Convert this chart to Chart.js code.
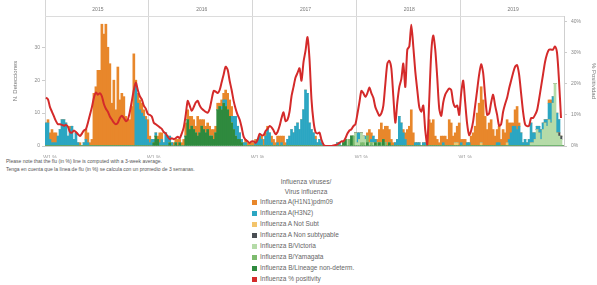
<!DOCTYPE html>
<html lang="en">
  <head>
    <meta charset="UTF-8" />
    <title>Influenza viruses / Virus influenza</title>
    <script src="https://cdn.jsdelivr.net/npm/chart.js"></script>
    <style>
      body { margin: 0; background: #fff; font-family: "Liberation Sans", Arial, sans-serif; }
      #wrap { position: absolute; left: 0; top: 0; width: 597px; height: 158px; }
      .note { position: absolute; left: 6px; font-size: 5px; color: #555; white-space: nowrap; }
      .leg-title { position: absolute; left: 256px; width: 100px; text-align: center; font-size: 6.5px; line-height: 10px; color: #666; }
      .leg-item { position: absolute; left: 252px; font-size: 6.5px; color: #666; white-space: nowrap; line-height: 8px; }
      .leg-item i { display: inline-block; width: 5px; height: 5px; margin-right: 3px; vertical-align: -0.5px; }
    </style>
  </head>
  <body>
    <div id="wrap"><canvas id="fluChart"></canvas></div>

    <div class="note" style="top: 158px">Please note that the flu (in %) line is computed with a 3-week average.</div>
    <div class="note" style="top: 166px">Tenga en cuenta que la línea de flu (in %) se calcula con un promedio de 3 semanas.</div>

    <div class="leg-title" style="top: 177px">Influenza viruses/<br />Virus influenza</div>
    <div id="legend"></div>

    <script>
      // years shown in the header, 52 weekly bars each
      const years = ["2015", "2016", "2017", "2018", "2019"];
      const weekTick = "W1 %";
      const countTicks = [0, 10, 20, 30];
      const pctTicks = [0, 10, 20, 30, 40];

      const zeroYear = [0,0,0,0,0,0,0,0,0,0, 0,0,0,0,0,0,0,0,0,0, 0,0,0,0,0,0,0,0,0,0, 0,0,0,0,0,0,0,0,0,0, 0,0,0,0,0,0,0,0,0,0, 0,0];

      // detections per week
      const h1n1 = [
        0,1,2,4,3,3,0,0,0,0, 0,0,1,0,0,0,0,1,0,0, 3,3,1,2,16,18,23,23,37,34, 37,30,25,13,20,11,24,14,16,15, 9,8,8,12,28,1,3,3,3,2, 1,6,
        2,0,0,0,1,3,2,0,0,0, 0,0,1,1,2,1,1,2,4,3, 4,3,3,2,6,4,2,3,2,2, 3,2,3,2,2,1,2,2,3,5, 5,3,0,0,0,0,0,0,1,1, 1,1,
        1,1,0,0,1,2,1,1,0,2, 2,1,2,3,2,3,1,0,0,0, 0,0,0,0,0,0,0,0,0,0, 0,1,0,0,0,0,0,0,0,0, 0,0,0,0,0,0,0,0,0,0, 0,0,
        0,0,0,0,0,1,4,2,0,0, 1,4,6,3,5,6,4,2,1,0, 0,0,0,1,2,5,6,11,4,0, 0,0,0,0,0,2,8,7,8,3, 2,1,3,2,3,2,8,7,3,3, 5,7,
        1,2,2,0,0,3,4,6,10,13, 17,14,9,5,7,8,5,3,4,5, 2,5,4,7,5,3,1,5,7,1, 0,0,0,0,0,0,0,0,0,0, 0,0,0,0,1,1,0,0,0,0, 0,0
      ];
      const h3n2 = [
        7,7,2,1,1,1,3,5,8,8, 7,3,5,6,2,4,1,0,0,1, 2,1,0,0,0,0,0,0,0,0, 0,0,0,0,0,0,0,0,0,0, 0,0,0,0,0,19,13,11,10,9, 8,2,
        1,2,1,1,0,1,2,1,4,3, 2,1,0,0,0,0,0,0,0,0, 0,0,0,0,0,0,0,0,0,0, 0,0,0,0,0,0,1,1,2,0, 0,2,4,6,4,2,1,1,1,0, 0,0,
        0,1,2,3,2,0,3,5,4,1, 0,0,1,0,1,0,0,2,3,5, 4,6,7,5,8,11,17,16,7,5, 4,2,1,2,1,0,0,0,0,0, 0,0,1,1,0,0,0,0,0,0, 0,0,
        3,2,0,0,1,0,0,1,2,1, 0,0,0,0,0,0,0,0,0,1, 2,9,7,4,2,0,0,0,0,1, 1,1,0,1,1,0,0,0,0,0, 0,0,0,1,0,0,0,0,0,0, 0,0,
        1,0,0,1,1,0,0,0,0,0, 0,0,0,0,0,0,0,0,1,1, 0,0,0,0,2,4,6,6,5,6, 4,1,2,1,2,6,3,2,1,2, 3,2,1,2,5,6,2,0,6,4, 0,0
      ];
      const aNotSubt = [
        ...zeroYear, ...zeroYear, ...zeroYear,
        0,0,0,0,0,0,0,0,0,0, 0,0,0,0,0,0,0,0,0,0, 0,0,0,0,0,0,0,0,0,0, 0,0,0,0,0,0,0,0,0,0, 0,0,0,0,0,0,0,0,0,1, 1,0,
        0,0,0,0,0,0,0,0,0,0, 1,0,0,0,0,0,0,0,0,0, 0,0,0,1,0,0,0,0,0,0, 0,0,0,0,0,0,0,0,0,0, 0,0,0,0,0,0,0,0,0,0, 0,0
      ];
      const aNonSubtypable = [
        ...zeroYear, ...zeroYear, ...zeroYear, ...zeroYear,
        0,0,0,0,0,0,0,0,0,0, 0,0,0,0,0,0,0,0,0,0, 0,0,0,0,0,0,0,0,0,0, 0,0,0,0,0,0,0,0,0,0, 0,0,0,0,0,0,0,0,0,1, 1,0
      ];
      const bVictoria = [
        ...zeroYear, ...zeroYear,
        0,0,0,0,0,0,0,0,0,0, 0,0,0,0,0,0,0,0,0,0, 0,0,0,0,0,0,0,0,0,0, 0,0,0,0,0,0,0,0,0,0, 0,0,0,0,0,0,0,2,0,0, 0,4,
        1,2,3,2,2,0,1,0,1,0, 0,0,0,0,0,0,0,0,0,0, 0,0,0,0,0,0,0,0,0,0, 0,0,0,0,0,0,0,0,0,0, 0,0,0,0,0,0,0,0,0,0, 0,0,
        0,0,0,0,0,0,0,0,0,0, 0,0,0,0,0,0,0,0,0,0, 0,0,0,0,0,0,0,0,0,0, 0,0,0,0,0,1,1,2,5,4, 2,5,7,6,8,7,13,19,4,3, 2,0
      ];
      const bYamagata = [
        ...zeroYear, ...zeroYear,
        0,0,0,0,0,0,0,0,0,0, 0,0,0,0,0,0,0,0,0,0, 0,0,0,0,0,0,0,0,0,0, 0,0,0,0,0,0,0,0,0,0, 0,0,0,0,0,0,0,0,2,0, 3,0,
        0,0,1,1,0,2,0,1,0,0, 1,0,1,0,1,0,0,0,0,0, 0,0,0,0,0,0,0,0,0,0, 0,0,0,0,0,0,0,0,0,0, 0,0,0,0,0,0,0,0,0,0, 0,0,
        ...zeroYear
      ];
      const bNonDeterm = [
        ...zeroYear,
        0,0,1,3,2,0,0,0,0,0, 1,0,0,1,0,1,0,0,3,8, 5,6,5,4,3,4,6,5,4,5, 3,3,2,4,11,12,11,13,12,11, 9,7,5,3,2,2,1,0,0,0, 0,0,
        0,0,0,0,0,0,0,0,0,0, 0,0,0,0,0,0,0,0,0,0, 0,0,0,0,0,0,0,0,0,0, 0,0,0,0,0,0,0,0,0,0, 0,0,0,0,0,1,2,0,0,3, 0,0,
        0,0,0,0,0,1,0,0,0,1, 0,1,0,2,0,0,1,0,0,0, 0,0,0,0,0,0,0,0,0,0, 0,0,0,0,0,0,0,0,0,0, 0,0,0,0,0,0,0,0,0,0, 0,0,
        ...zeroYear
      ];

      // % positivity (3-week average)
      const positivity = [
        15.6,15,12.5,11,9.5,8,7,7,6.8,6.5, 6.8,6.2,4.5,4.3,5,4.5,3.8,3.2,4,5, 5.4,7.5,10,12.5,15.5,17.2,16.5,17,16,13.5, 12,11,9.5,8.5,7.5,7,7.5,9,9.7,9, 8,8.5,11,14.5,18,20.4,18,16,15,13, 12,10.3,
        10,9.5,7.5,7,6.5,6,5.5,4.5,4,3, 2.2,2.5,2.2,2.5,3,2.5,4,6,10,14.5, 13,11.3,12.5,14,14.5,13,12,11.5,11,10.7, 12,15,17.7,17.5,17,18,20.5,23,25.5,24.5, 21,18,14.5,12,10,8.5,6,3,2,1.5, 1,1.5,
        1.5,1,2,3.9,3.5,3.5,4.8,5.5,6.4,6, 5,3.8,4.5,6.4,9,10.8,8,8.5,11,16, 19,22,23.5,25,21,27,30.6,35,28,15, 8,4.5,4,4.3,2,0.5,0,0,0,0, 0.2,0.3,0.5,1,1.5,1.5,2.5,4,5,5.4, 6.4,7,
        10.3,14,17.7,17,15.8,17,18.8,17,15.5,12.5, 11,9.7,10.5,13,20,26.5,27.4,25,16,7.5, 14,19,21.5,26.5,19,31,32,39,32,24, 18,12.5,11,13,5,0.5,15,30,35.5,31, 22,12,9.7,14,16.5,17.7,18.5,18,14,12.5, 13,10,
        17,21,14,7,3.5,5,8,13,18,23, 26.3,23.5,16,10,10.5,14,16.5,13,10,6.5, 7,11,13.5,15.5,18.5,21,23.5,25.5,26,23, 17,11,7,6.4,6.5,9,9,10,11.5,15, 19,23,27,29.6,31,31,31,32,30,21, 9,null
      ];

      const labels = [];
      years.forEach((y) => {
        for (let w = 1; w <= 52; w++) labels.push(y + " W" + w);
      });

      const series = [
        { label: "Influenza B/Lineage non-determ.", data: bNonDeterm, color: "#2f8a3e" },
        { label: "Influenza B/Yamagata", data: bYamagata, color: "#7dbb6e" },
        { label: "Influenza B/Victoria", data: bVictoria, color: "#b5dba8" },
        { label: "Influenza A Non subtypable", data: aNonSubtypable, color: "#4b4f54" },
        { label: "Influenza A Not Subt", data: aNotSubt, color: "#f3c46b" },
        { label: "Influenza A(H3N2)", data: h3n2, color: "#2ba6c2" },
        { label: "Influenza A(H1N1)pdm09", data: h1n1, color: "#e8872b" },
      ];
      const lineColor = "#d42a2a";

      series.concat([{ label: "positivity", data: positivity }]).forEach((s) => {
        if (s.data.length !== labels.length) throw new Error(s.label + " has " + s.data.length);
      });

      const datasets = series.map((s) => ({
        type: "bar",
        label: s.label,
        data: s.data,
        backgroundColor: s.color,
        borderWidth: 0,
        barPercentage: 1,
        categoryPercentage: 1,
        yAxisID: "y",
        order: 1,
      }));
      datasets.push({
        type: "line",
        label: "Influenza % positivity",
        data: positivity,
        borderColor: lineColor,
        borderWidth: 2,
        pointRadius: 0,
        tension: 0.25,
        yAxisID: "y1",
        order: 0,
      });

      const tickFont = { family: "Liberation Sans", size: 5 };

      new Chart(document.getElementById("fluChart"), {
        data: { labels: labels, datasets: datasets },
        options: {
          responsive: true,
          maintainAspectRatio: false,
          animation: false,
          layout: { padding: 0 },
          plugins: { legend: { display: false }, tooltip: { enabled: false } },
          scales: {
            x: {
              type: "category",
              stacked: true,
              offset: true,
              grid: { display: false },
              border: { display: true, color: "#cfcfcf" },
              ticks: {
                autoSkip: false,
                maxRotation: 0,
                minRotation: 0,
                padding: 1,
                font: tickFont,
                color: "#999",
                callback: (v, i) => (i % 52 === 2 ? weekTick : ""),
              },
              afterFit: (s) => { s.height = 12; },
            },
            xTop: {
              type: "category",
              position: "top",
              offset: true,
              grid: {
                offset: true,
                drawOnChartArea: true,
                tickLength: 16,
                color: (ctx) => (ctx.index !== undefined && ctx.index % 52 === 0 ? "#d6d6d6" : "rgba(0,0,0,0)"),
              },
              border: { display: true, color: "#dcdcdc" },
              ticks: {
                autoSkip: false,
                maxRotation: 0,
                minRotation: 0,
                padding: -13,
                font: tickFont,
                color: "#777",
                callback: (v, i) => (i % 52 === 26 ? years[Math.floor(i / 52)] : ""),
              },
              afterFit: (s) => { s.height = 16; },
            },
            y: {
              stacked: true,
              min: 0,
              max: 39.5,
              grid: { drawOnChartArea: false, tickLength: 3, color: "#cccccc" },
              border: { display: false },
              afterBuildTicks: (s) => { s.ticks = countTicks.map((v) => ({ value: v })); },
              ticks: { font: tickFont, color: "#888", padding: 2 },
              title: {
                display: true,
                text: "N. Detecciones",
                font: { family: "Liberation Sans", size: 6 },
                color: "#777",
                padding: { top: 12, bottom: 0 },
              },
              afterFit: (s) => { s.width = 45; },
            },
            y1: {
              position: "right",
              min: 0,
              max: 41.8,
              grid: { drawOnChartArea: false, tickLength: 3, color: "#cccccc" },
              border: { display: true, color: "#cfcfcf" },
              afterBuildTicks: (s) => { s.ticks = pctTicks.map((v) => ({ value: v })); },
              ticks: {
                font: tickFont,
                color: "#888",
                padding: 4,
                callback: (v) => v + "%",
              },
              title: {
                display: true,
                text: "% Positividad",
                font: { family: "Liberation Sans", size: 6 },
                color: "#777",
                padding: { top: 0, bottom: 1 },
              },
              afterFit: (s) => { s.width = 33; },
            },
          },
        },
      });

      // legend, top item first
      const legendItems = series
        .slice()
        .reverse()
        .map((s) => [s.label, s.color])
        .concat([["Influenza % positivity", lineColor]]);
      const legendBox = document.getElementById("legend");
      legendItems.forEach((item, k) => {
        const row = document.createElement("div");
        row.className = "leg-item";
        row.style.top = 198 + k * 11 + "px";
        row.innerHTML = '<i style="background:' + item[1] + '"></i>' + item[0];
        legendBox.appendChild(row);
      });
    </script>
  </body>
</html>
